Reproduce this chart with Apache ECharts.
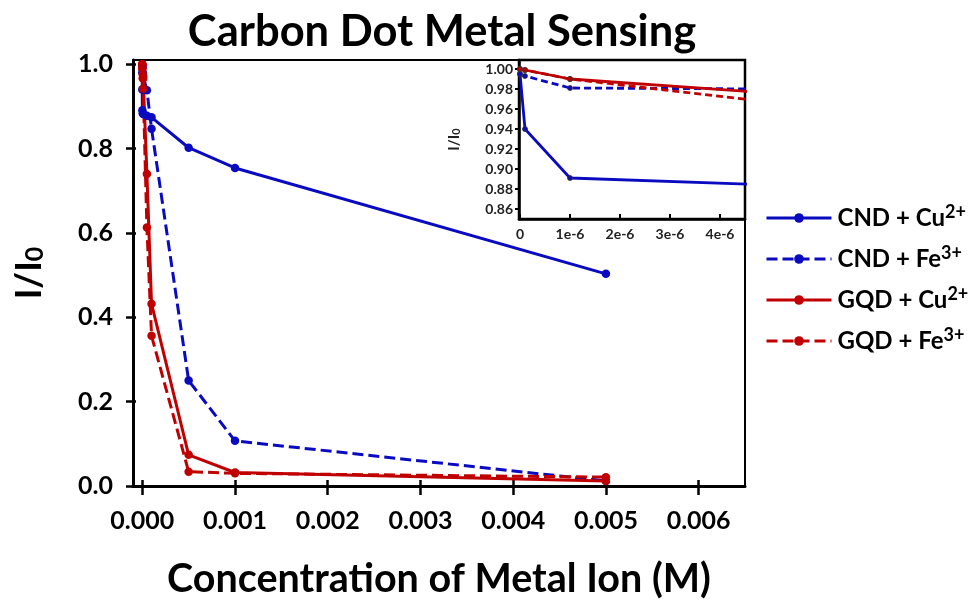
<!DOCTYPE html>
<html><head><meta charset="utf-8">
<script src="https://cdn.jsdelivr.net/npm/echarts@6/dist/echarts.min.js"></script>
<style>html,body{margin:0;padding:0;background:#fff}#c{width:972px;height:604px}</style>
</head><body><div id="c"></div>
<script>
// Concentration of metal ion (M)
const conc = [0, 1e-7, 1e-6, 5e-6, 1e-5, 5e-5, 1e-4, 5e-4, 1e-3, 5e-3];
// I/I0 values
const cndCu = [0.995, 0.940, 0.891, 0.884, 0.882, 0.878, 0.874, 0.802, 0.754, 0.503];
const cndFe = [0.995, 0.993, 0.981, 0.980, 0.972, 0.938, 0.847, 0.250, 0.107, 0.012];
const gqdCu = [1.000, 0.999, 0.990, 0.976, 0.966, 0.740, 0.432, 0.074, 0.032, 0.012];
const gqdFe = [1.000, 0.999, 0.990, 0.967, 0.942, 0.613, 0.356, 0.034, 0.030, 0.021];

const seriesNames = ['CND + Cu2+', 'CND + Fe3+', 'GQD + Cu2+', 'GQD + Fe3+'];
const legendBase = ['CND + Cu', 'CND + Fe', 'GQD + Cu', 'GQD + Fe'];
const legendSup = ['2+', '3+', '2+', '3+'];

const mainXTicks = [0, 0.001, 0.002, 0.003, 0.004, 0.005, 0.006];
const mainXLabels = ['0.000', '0.001', '0.002', '0.003', '0.004', '0.005', '0.006'];
const mainYTicks = [0, 0.2, 0.4, 0.6, 0.8, 1.0];
const mainYLabels = ['0.0', '0.2', '0.4', '0.6', '0.8', '1.0'];
const insetXTicks = [0, 1e-6, 2e-6, 3e-6, 4e-6];
const insetXLabels = ['0', '1e-6', '2e-6', '3e-6', '4e-6'];
const insetYTicks = [0.86, 0.88, 0.90, 0.92, 0.94, 0.96, 0.98, 1.00];
const insetYLabels = ['0.86', '0.88', '0.90', '0.92', '0.94', '0.96', '0.98', '1.00'];

const BLUE = '#0a0ac0', RED = '#c00000';
const FONT = 'Lato';

function lookup(ticks, labels) {
  return function (v) {
    let b = 0;
    for (let i = 1; i < ticks.length; i++) if (Math.abs(ticks[i] - v) < Math.abs(ticks[b] - v)) b = i;
    return labels[b];
  };
}

const allY = [cndCu, cndFe, gqdCu, gqdFe];
const colors = [BLUE, BLUE, RED, RED];
const dashed = [false, true, false, true];

const series = [];
allY.forEach((ys, i) => {
  const data = conc.map((x, j) => [x, ys[j]]);
  series.push({
    name: seriesNames[i], type: 'line', xAxisIndex: 0, yAxisIndex: 0,
    data: data, symbol: 'circle', symbolSize: 8.5, z: 2,
    itemStyle: { color: colors[i] },
    lineStyle: { color: colors[i], width: 3, type: dashed[i] ? [11, 5] : 'solid' },
    emphasis: { disabled: true }
  });
});
allY.forEach((ys, i) => {
  const data = conc.map((x, j) => [x, ys[j]]);
  series.push({
    name: seriesNames[i], type: 'line', xAxisIndex: 2, yAxisIndex: 2,
    data: data, symbol: 'circle', symbolSize: 5, z: 8, clip: true,
    itemStyle: { color: colors[i], borderColor: '#333', borderWidth: 0.8 },
    lineStyle: { color: colors[i], width: 2.8, type: dashed[i] ? [7, 4] : 'solid' },
    emphasis: { disabled: true }
  });
});

const chart = echarts.init(document.getElementById('c'), null, { renderer: 'canvas' });
chart.setOption({
  animation: false,
  backgroundColor: '#fff',
  title: {
    text: 'Carbon Dot Metal Sensing', left: 437, top: 5, textAlign: 'center',
    textStyle: { fontFamily: FONT, fontWeight: 'bold', fontSize: 43.5, color: '#000' }
  },
  legend: {
    orient: 'vertical', left: 760, top: 198, itemWidth: 65, itemHeight: 12, itemGap: 14,
    data: seriesNames,
    lineStyle: { width: 3 },
    formatter: function (name) {
      const i = seriesNames.indexOf(name);
      return '{a|' + legendBase[i] + '}{s|' + legendSup[i] + '}';
    },
    textStyle: {
      rich: {
        a: { fontFamily: FONT, fontWeight: 'bold', fontSize: 24, lineHeight: 30, color: '#000', padding: [0, 0, 0, 1] },
        s: { fontFamily: FONT, fontWeight: 'bold', fontSize: 18, color: '#000', verticalAlign: 'top' }
      }
    }
  },
  grid: [
    { left: 133, right: 227, top: 60, bottom: 118, show: true, borderColor: '#000', borderWidth: 2, backgroundColor: 'transparent', z: 0 },
    { left: 519, right: 227, top: 60, bottom: 385, show: true, borderColor: '#000', borderWidth: 2.5, backgroundColor: '#fff', z: 5 }
  ],
  xAxis: [
    {
      type: 'value', gridIndex: 0, position: 'bottom', min: -0.0001, max: 0.0065,
      name: 'Concentration of Metal Ion (M)', nameLocation: 'middle', nameGap: 73,
      nameTextStyle: { fontFamily: FONT, fontWeight: 'bold', fontSize: 39.5, color: '#000' },
      axisLine: { onZero: false, lineStyle: { color: '#000', width: 3 } },
      axisTick: { customValues: mainXTicks, length: 9, lineStyle: { color: '#000', width: 2.5 } },
      axisLabel: { customValues: mainXTicks, formatter: lookup(mainXTicks, mainXLabels), margin: 22,
        fontFamily: FONT, fontWeight: 'bold', fontSize: 25, color: '#000' },
      splitLine: { show: false }
    },
    {
      type: 'value', gridIndex: 0, position: 'bottom', min: -0.0001, max: 0.0065,
      axisLine: { show: false, onZero: false },
      axisTick: { customValues: mainXTicks, inside: true, length: 6, lineStyle: { color: '#000', width: 2.5 } },
      axisLabel: { show: false }, splitLine: { show: false }
    },
    {
      type: 'value', gridIndex: 1, position: 'bottom', min: -2e-8, max: 4.5e-6, z: 8,
      axisLine: { onZero: false, lineStyle: { color: '#000', width: 2.5 } },
      axisTick: { customValues: insetXTicks, inside: true, length: 5, lineStyle: { color: '#000', width: 2 } },
      axisLabel: { customValues: insetXTicks, formatter: lookup(insetXTicks, insetXLabels), margin: 8,
        fontFamily: FONT, fontWeight: 'bold', fontSize: 14, color: '#222' },
      splitLine: { show: false }
    }
  ],
  yAxis: [
    {
      type: 'value', gridIndex: 0, position: 'left', min: 0, max: 1.01,
      name: '{a|I/I}{s|0}', nameLocation: 'middle', nameGap: 86, nameRotate: 90,
      nameTextStyle: {
        rich: {
          a: { fontFamily: FONT, fontWeight: 'bold', fontSize: 36, color: '#000' },
          s: { fontFamily: FONT, fontWeight: 'bold', fontSize: 25, color: '#000', verticalAlign: 'bottom' }
        }
      },
      axisLine: { onZero: false, lineStyle: { color: '#000', width: 3 } },
      axisTick: { customValues: mainYTicks, length: 7, lineStyle: { color: '#000', width: 2.5 } },
      axisLabel: { customValues: mainYTicks, formatter: lookup(mainYTicks, mainYLabels), margin: 20,
        fontFamily: FONT, fontWeight: 'bold', fontSize: 25, color: '#000' },
      splitLine: { show: false }
    },
    {
      type: 'value', gridIndex: 0, position: 'left', min: 0, max: 1.01,
      axisLine: { show: false, onZero: false },
      axisTick: { customValues: mainYTicks, inside: true, length: 3, lineStyle: { color: '#000', width: 2.5 } },
      axisLabel: { show: false }, splitLine: { show: false }
    },
    {
      type: 'value', gridIndex: 1, position: 'left', min: 0.85, max: 1.009, z: 8,
      name: '{a|I/I}{s|0}', nameLocation: 'middle', nameGap: 57, nameRotate: 90,
      nameTextStyle: {
        rich: {
          a: { fontFamily: FONT, fontWeight: 'bold', fontSize: 15, color: '#222' },
          s: { fontFamily: FONT, fontWeight: 'bold', fontSize: 11, color: '#222', verticalAlign: 'bottom' }
        }
      },
      axisLine: { onZero: false, lineStyle: { color: '#000', width: 2.5 } },
      axisTick: { customValues: insetYTicks, length: 4, lineStyle: { color: '#000', width: 2 } },
      axisLabel: { customValues: insetYTicks, formatter: lookup(insetYTicks, insetYLabels), margin: 6,
        fontFamily: FONT, fontWeight: 'bold', fontSize: 14, color: '#222' },
      splitLine: { show: false }
    }
  ],
  series: series
});
</script>
</body></html>
